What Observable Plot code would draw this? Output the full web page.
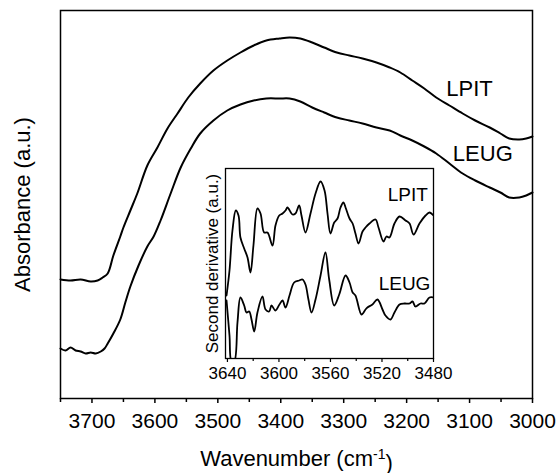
<!DOCTYPE html>
<html><head><meta charset="utf-8">
<script src="https://cdn.jsdelivr.net/npm/d3@7"></script>
<script src="https://cdn.jsdelivr.net/npm/@observablehq/plot@0.6"></script>
<style>
body{margin:0;background:#fff;}
#wrap{position:relative;width:558px;height:473px;}
#inset{position:absolute;left:200px;top:160px;}
</style></head><body><div id="wrap"><div id="main"></div><div id="inset"></div></div>
<script>
// Main spectra (wavenumber cm-1, absorbance a.u.)
const lpitWn = [3750,3734,3718,3702,3691,3683,3675,3666,3655,3650,3639,3628,3612,3596,3580,3564,3547,3528,3507,3485,3464,3443,3423,3402,3386,3369,3350,3331,3311,3291,3270,3248,3227,3210,3191,3172,3153,3132,3111,3091,3068,3051,3037,3021,3010,3000];
const lpitAbs = [1.19,1.18,1.19,1.17,1.18,1.21,1.25,1.43,1.62,1.71,1.88,2.05,2.33,2.51,2.70,2.85,3.01,3.15,3.28,3.38,3.46,3.53,3.58,3.60,3.61,3.60,3.56,3.51,3.46,3.43,3.40,3.36,3.31,3.26,3.18,3.10,3.01,2.93,2.85,2.78,2.71,2.65,2.60,2.59,2.60,2.62];
const leugWn = [3750,3742,3734,3726,3718,3710,3702,3694,3686,3680,3675,3666,3655,3647,3639,3626,3612,3602,3591,3575,3559,3543,3528,3507,3485,3464,3443,3423,3402,3386,3369,3350,3331,3311,3291,3270,3248,3227,3210,3191,3172,3153,3132,3111,3091,3068,3051,3037,3021,3010,3000];
const leugAbs = [0.50,0.48,0.51,0.48,0.47,0.45,0.46,0.45,0.47,0.50,0.55,0.65,0.79,0.96,1.12,1.33,1.52,1.62,1.78,2.05,2.31,2.50,2.65,2.78,2.88,2.94,2.98,3.00,3.00,3.00,2.97,2.91,2.86,2.81,2.78,2.75,2.71,2.68,2.63,2.58,2.52,2.45,2.35,2.25,2.18,2.11,2.06,2.01,2.01,2.03,2.06];
const mainTicks = [3700,3600,3500,3400,3300,3200,3100,3000];
const mainMinorTicks = [3750,3650,3550,3450,3350,3250,3150,3050];

// Inset: second derivative
const lpitInsetWn = [3640.7,3638.4,3636.1,3633.5,3631.4,3629.9,3627.0,3624.4,3622.1,3619.8,3616.7,3614.3,3611.5,3608.9,3605.0,3602.7,3599.8,3597.2,3594.9,3593.4,3589.5,3587.2,3584.3,3582.5,3579.4,3575.5,3571.6,3567.7,3564.6,3562.3,3560.0,3557.1,3554.5,3552.2,3549.9,3548.3,3545.2,3542.8,3540.6,3538.2,3535.1,3532.8,3529.7,3525.0,3522.7,3518.8,3516.5,3514.2,3510.3,3506.4,3501.7,3498.6,3495.5,3490.9,3486.2,3483.1,3480.0];
const lpitInsetD = [6.3,8.8,12.8,14.8,14.3,12.1,11.0,10.1,8.6,11.3,15.0,14.5,12.6,12.6,11.3,13.3,14.3,14.5,14.8,15.1,14.4,14.5,15.3,14.3,12.6,14.5,16.5,17.7,16.8,14.5,12.5,13.6,14.0,15.1,15.6,15.1,14.0,13.5,12.5,11.5,12.7,13.1,13.5,13.9,13.1,11.7,12.2,12.1,13.5,14.2,13.8,13.5,12.4,13.5,14.3,14.6,14.3];
const leugInsetWn = [3640.7,3638.4,3636.8,3634.7,3632.2,3629.9,3627.0,3625.2,3623.1,3621.3,3619.2,3616.7,3612.8,3610.4,3607.6,3605.8,3602.7,3599.6,3597.2,3594.9,3591.8,3588.2,3584.3,3581.7,3579.4,3577.1,3574.7,3571.6,3567.7,3563.9,3561.0,3557.1,3553.2,3548.3,3545.2,3542.8,3540.6,3535.9,3532.8,3531.3,3527.4,3523.5,3519.6,3517.3,3513.4,3510.3,3506.4,3502.5,3498.6,3496.3,3494.0,3490.1,3487.0,3483.1,3480.0];
const leugInsetD = [5.8,2.3,-0.3,-0.3,3.6,6.1,5.3,4.6,4.7,3.9,2.7,4.6,6.2,4.9,4.7,5.3,4.8,5.4,5.8,5.1,6.3,7.6,7.8,7.9,7.4,5.9,4.6,5.9,8.3,10.6,7.9,5.3,6.4,8.3,7.6,6.6,6.3,4.4,4.9,5.1,5.4,5.9,4.9,4.3,3.9,4.6,5.4,5.5,5.5,5.7,5.2,5.5,5.5,6.1,6.1];
const insetTicks = [3640,3600,3560,3520,3480];
const insetMinorTicks = [3620,3580,3540,3500];

const zip = (xs, ys) => xs.map((x, i) => ({x, y: ys[i]}));
const font = "'Liberation Sans', Arial, Helvetica, sans-serif";
const fmt = d3.format("d");

const main = Plot.plot({
  width: 558, height: 473,
  marginLeft: 60, marginRight: 26, marginTop: 10, marginBottom: 75,
  style: {fontFamily: font, background: "#fff", color: "#000", overflow: "visible"},
  x: {domain: [3750, 3000], label: null},
  y: {domain: [0, 3.88], axis: null},
  marks: [
    Plot.axisX(mainTicks, {tickSize: 5, tickPadding: 10, fontSize: 21, tickFormat: fmt, label: null, strokeWidth: 1.5}),
    Plot.axisX(mainMinorTicks, {tickSize: 4, tickFormat: () => "", label: null, strokeWidth: 1.5}),
    Plot.line(zip(lpitWn, lpitAbs), {x: "x", y: "y", stroke: "#000", strokeWidth: 2, curve: "catmull-rom"}),
    Plot.line(zip(leugWn, leugAbs), {x: "x", y: "y", stroke: "#000", strokeWidth: 2, curve: "catmull-rom"}),
    Plot.frame({stroke: "#000", strokeWidth: 1.5}),
    Plot.text(["LPIT"], {x: 3100, y: 3.03, lineAnchor: "bottom", fontSize: 22, fill: "#000"}),
    Plot.text(["LEUG"], {x: 3079, y: 2.38, lineAnchor: "bottom", fontSize: 22, fill: "#000"}),
    Plot.text(["Wavenumber (cm-1)"], {frameAnchor: "bottom", dy: 67, lineAnchor: "bottom", textAnchor: "middle", fontSize: 22, fill: "#000"}),
    Plot.text(["Absorbance (a.u.)"], {frameAnchor: "left", rotate: -90, dx: -31, lineAnchor: "bottom", textAnchor: "middle", fontSize: 22, fill: "#000"})
  ]
});
document.getElementById("main").appendChild(main);

// superscript in x label
d3.select(main).selectAll("text").filter(function(){ return this.textContent === "Wavenumber (cm-1)"; })
  .each(function(){
    const t = d3.select(this);
    t.text("");
    t.append("tspan").text("Wavenumber (cm");
    t.append("tspan").attr("dy", "-0.5em").attr("font-size", "14px").text("-1");
    t.append("tspan").attr("dy", "0.5em").text(")");
  });

const inset = Plot.plot({
  width: 255, height: 225,
  marginLeft: 25, marginRight: 22, marginTop: 8, marginBottom: 27,
  style: {fontFamily: font, background: "transparent", color: "#000", overflow: "visible"},
  x: {domain: [3641.5, 3480], label: null},
  y: {domain: [0, 19], axis: null},
  marks: [
    Plot.frame({fill: "#fff", stroke: null}),
    Plot.axisX(insetTicks, {tickSize: 4, tickPadding: 4, fontSize: 17, tickFormat: fmt, label: null, strokeWidth: 1.2}),
    Plot.axisX(insetMinorTicks, {tickSize: 3, tickFormat: () => "", label: null, strokeWidth: 1.2}),
    Plot.line(zip(lpitInsetWn, lpitInsetD), {x: "x", y: "y", stroke: "#000", strokeWidth: 1.8, curve: "catmull-rom", clip: true}),
    Plot.line(zip(leugInsetWn, leugInsetD), {x: "x", y: "y", stroke: "#000", strokeWidth: 1.8, curve: "catmull-rom", clip: true}),
    Plot.frame({stroke: "#000", strokeWidth: 1.3}),
    Plot.text(["LPIT"], {x: 3500, y: 15.8, lineAnchor: "bottom", fontSize: 19, fill: "#000"}),
    Plot.text(["LEUG"], {x: 3502.5, y: 6.9, lineAnchor: "bottom", fontSize: 19, fill: "#000"}),
    Plot.text(["Second derivative (a.u.)"], {frameAnchor: "left", rotate: -90, dx: -8, lineAnchor: "bottom", textAnchor: "middle", fontSize: 17, fill: "#000"})
  ]
});
document.getElementById("inset").appendChild(inset);
</script>
</body></html>
